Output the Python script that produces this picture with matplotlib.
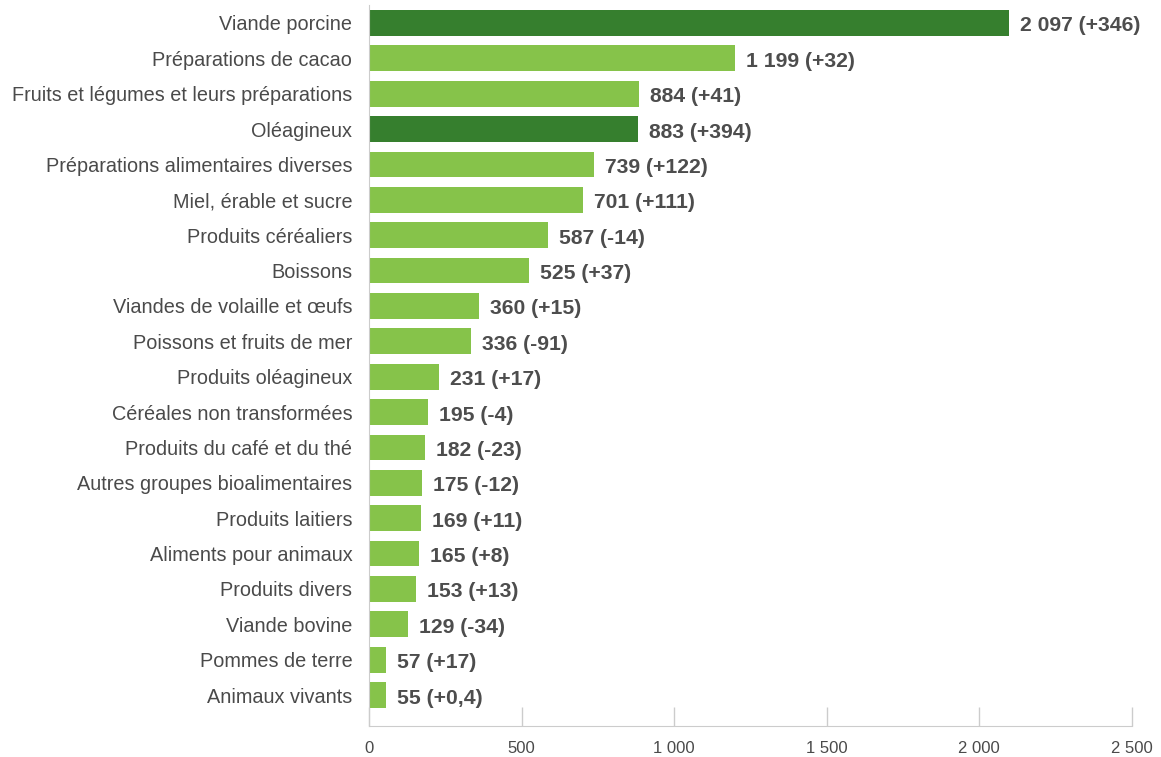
import matplotlib
matplotlib.use("Agg")
import matplotlib.pyplot as plt
from matplotlib import font_manager as fm

categories = ["Viande porcine", "Préparations de cacao", "Fruits et légumes et leurs préparations",
              "Oléagineux", "Préparations alimentaires diverses", "Miel, érable et sucre",
              "Produits céréaliers", "Boissons", "Viandes de volaille et œufs",
              "Poissons et fruits de mer", "Produits oléagineux", "Céréales non transformées",
              "Produits du café et du thé", "Autres groupes bioalimentaires", "Produits laitiers",
              "Aliments pour animaux", "Produits divers", "Viande bovine", "Pommes de terre",
              "Animaux vivants"]
values = [2097, 1199, 884, 883, 739, 701, 587, 525, 360, 336, 231, 195, 182, 175, 169, 165, 153, 129, 57, 55]
labels = ["2 097 (+346)", "1 199 (+32)", "884 (+41)", "883 (+394)", "739 (+122)", "701 (+111)",
          "587 (-14)", "525 (+37)", "360 (+15)", "336 (-91)", "231 (+17)", "195 (-4)",
          "182 (-23)", "175 (-12)", "169 (+11)", "165 (+8)", "153 (+13)", "129 (-34)",
          "57 (+17)", "55 (+0,4)"]
highlight = [True, False, False, True] + [False] * 16
xticks = [0, 500, 1000, 1500, 2000, 2500]
xticklabels = ["0", "500", "1 000", "1 500", "2 000", "2 500"]

names = {f.name for f in fm.fontManager.ttflist}
fam = "Liberation Sans Narrow" if "Liberation Sans Narrow" in names else "Liberation Sans"

W, H = 1161, 757
fig = plt.figure(figsize=(W / 100, H / 100), dpi=100)
x0, x1 = 369, 1131.5
ytop, ybot = 5.3, 726
ax = fig.add_axes([x0 / W, 1 - ybot / H, (x1 - x0) / W, (ybot - ytop) / H])

dark, light = "#367f2e", "#86c34a"
colors = [dark if h else light for h in highlight]
y = list(range(len(categories)))
ax.barh(y, values, height=0.73, color=colors, zorder=2)
ax.set_ylim(len(categories) - 1 + 0.876, -0.5)
ax.set_xlim(0, 2500)

for yi, v, lab in zip(y, values, labels):
    ax.annotate(lab, (v, yi), xytext=(11, -3), textcoords="offset pixels",
                va="center", ha="left", fontsize=15.2, fontweight="bold", color="#4d4d4d", family=fam)

ax.set_yticks(y)
ax.set_yticklabels(categories, family=fam, fontsize=14.3, color="#4a4a4a")
ax.tick_params(axis="y", length=0, pad=12)
ax.set_xticks(xticks)
ax.set_xticklabels(xticklabels, family=fam, fontsize=12, color="#4a4a4a")
ax.tick_params(axis="x", direction="in", length=14, width=1, color="#cccccc", pad=11)

for s in ["top", "right"]:
    ax.spines[s].set_visible(False)
ax.spines["left"].set_color("#cccccc")
ax.spines["bottom"].set_color("#cccccc")

fig.savefig("out.png", dpi=100)
